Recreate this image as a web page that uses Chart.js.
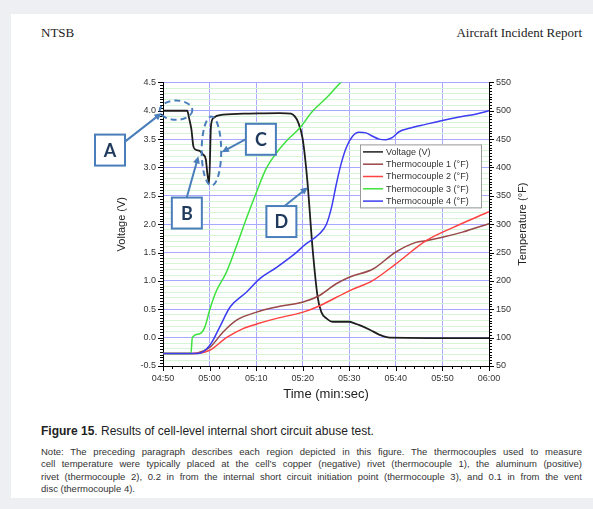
<!DOCTYPE html>
<html>
<head>
<meta charset="utf-8">
<script src="https://cdn.jsdelivr.net/npm/chart.js@4.4.0/dist/chart.umd.min.js"></script>
<style>
  body { margin: 0; width: 593px; height: 509px; background: #edeff2; position: relative; overflow: hidden; font-family: "Liberation Sans", Arial, sans-serif; color: #222; }
  #page { position: absolute; left: 11px; top: 14px; width: 582px; height: 484px; background: #fff; }
  .hdr { position: absolute; top: 25px; font-family: "Liberation Serif", "Times New Roman", serif; font-size: 13px; color: #222; }
  #chartBox { position: absolute; left: 60px; top: 70px; width: 500px; height: 345px; }
  #caption { position: absolute; left: 41px; top: 424px; font-size: 12px; color: #222; white-space: nowrap; }
  #note { position: absolute; left: 41px; top: 446px; width: 541px; font-size: 9.5px; line-height: 12.4px; color: #333; }
  #note div { text-align: justify; text-align-last: justify; white-space: nowrap; }
  #note div.last { text-align-last: left; }
</style>
</head>
<body>
<div id="page"></div>
<div class="hdr" style="left:41px">NTSB</div>
<div class="hdr" style="right:11px">Aircraft Incident Report</div>
<div id="chartBox"><canvas id="cellchart"></canvas></div>
<div id="caption"><b>Figure 15</b>. Results of cell-level internal short circuit abuse test.</div>
<div id="note">
  <div>Note: The preceding paragraph describes each region depicted in this figure. The thermocouples used to measure</div>
  <div>cell temperature were typically placed at the cell’s copper (negative) rivet (thermocouple 1), the aluminum (positive)</div>
  <div>rivet (thermocouple 2), 0.2 in from the internal short circuit initiation point (thermocouple 3), and 0.1 in from the vent</div>
  <div class="last">disc (thermocouple 4).</div>
</div>
<script>
// time is seconds after 04:50
var voltTime = [0, 5.2, 5.6, 6.1, 6.5, 6.9, 7.9, 8.6, 9.2, 9.5, 9.9, 10.3, 10.8, 12.9, 18.6, 25, 27.5, 28.3, 29.0, 30.0, 31.0, 32.1, 33.2, 34.0, 35.1, 36.5, 40.1, 40.8, 42.2, 44.4, 46.5, 48.7, 70];
var voltage = [4.0, 4.0, 3.87, 3.67, 3.38, 3.32, 3.29, 3.23, 3.14, 2.91, 2.72, 3.73, 3.87, 3.93, 3.95, 3.96, 3.95, 3.9, 3.8, 3.5, 2.76, 1.59, 0.72, 0.45, 0.34, 0.28, 0.28, 0.26, 0.22, 0.14, 0.05, 0.0, -0.01];

var tc1Time = [0, 6.5, 8.5, 10.1, 12.9, 15.8, 20.1, 24.4, 30.1, 33.3, 37.2, 40.1, 45.1, 50, 54.3, 56.5, 60, 64.3, 70];
var tc1Temp = [72, 72, 76, 83, 110, 131, 145, 154, 163, 173, 195, 207, 221, 251, 268, 271, 277, 286, 301];

var tc2Time = [0, 7, 10.1, 13.6, 17.2, 20.1, 24.4, 30.1, 33.3, 40.1, 45.1, 50, 56.5, 62.2, 70];
var tc2Temp = [72, 72, 78, 100, 116, 124, 134, 145, 155, 183, 201, 230, 271, 294, 322];

var tc3Time = [0, 6.0, 6.3, 7.9, 9.0, 10.1, 11.5, 13.6, 15.8, 17.9, 20.0, 22.1, 24.3, 26.4, 29.3, 32.1, 35.0, 38.2, 40];
var tc3Temp = [72, 72, 100, 107, 119, 151, 183, 215, 262, 310, 355, 397, 425, 446, 469, 499, 522, 550, 562];

var tc4Time = [0, 7.5, 10.1, 12.2, 14.4, 17.9, 20.8, 24.4, 28.6, 30.5, 33.6, 35.1, 36.2, 37.2, 38.2, 39.3, 40.7, 42.1, 43.6, 45.0, 46.4, 47.9, 49.3, 50.7, 52.9, 56.4, 60, 63.6, 67.1, 70];
var tc4Temp = [72, 72, 87, 119, 154, 180, 204, 224, 250, 264, 283, 300, 330, 370, 405, 434, 455, 462, 461, 455, 450, 449, 453, 463, 469, 476, 483, 489, 494, 500];

var seriesNames = ['Voltage (V)', 'Thermocouple 1 (°F)', 'Thermocouple 2 (°F)', 'Thermocouple 3 (°F)', 'Thermocouple 4 (°F)'];
var seriesColors = ['#1e1e1e', '#9a4848', '#ff4242', '#3ee23e', '#3c3cf2'];

// callouts, placed in data units (seconds, volts)
var ellipses = [
	{t: 2.8, v: 4.01, rt: 3.5, rv: 0.17},
	{t: 10.4, v: 3.29, rt: 2.1, rv: 0.61}
];
var callouts = [
	{label: 'A', t: -14.6, v: 3.58, from: [-8.1, 3.46], to: [-0.3, 3.96]},
	{label: 'B', t: 1.9, v: 2.47, from: [5.1, 2.47], to: [7.6, 3.2]},
	{label: 'C', t: 17.8, v: 3.77, from: [17.8, 3.5], to: [12.6, 3.27]},
	{label: 'D', t: 22.2, v: 2.32, from: [26.1, 2.32], to: [31.1, 2.65]}
];

function pairs(xs, ys) {
	return xs.map(function (x, i) { return {x: x, y: ys[i]}; });
}
function fmtTime(s) {
	var t = 290 + s;
	var m = Math.floor(t / 60), ss = Math.round(t % 60);
	return String(m).padStart(2, '0') + ':' + String(ss).padStart(2, '0');
}
function isMajor(v) {
	return Math.abs(v * 2 - Math.round(v * 2)) < 1e-6;
}

var gridBlue = '#a9a9ff';
var gridGreen = '#d6f4d6';
var annoBlue = '#4a7ebb';

var extras = {
	id: 'extras',
	afterDraw: function (chart) {
		var ctx = chart.ctx, a = chart.chartArea;
		var xs = chart.scales.x, ys = chart.scales.y, y2 = chart.scales.y2;
		ctx.save();
		// tick marks
		ctx.strokeStyle = '#000';
		ctx.lineWidth = 1;
		ctx.beginPath();
		for (var i = 0; i <= 100; i++) {
			var py = Math.round(ys.getPixelForValue(-0.5 + i * 0.05)) + 0.5;
			var len = i % 10 === 0 ? 5 : 3;
			ctx.moveTo(a.left - len, py); ctx.lineTo(a.left, py);
			var py2 = Math.round(y2.getPixelForValue(50 + i * 5)) + 0.5;
			ctx.moveTo(a.right, py2); ctx.lineTo(a.right + len, py2);
		}
		for (var s = 0; s <= 70; s += 2) {
			var px = Math.round(xs.getPixelForValue(s)) + 0.5;
			var l2 = s % 10 === 0 ? 5 : 3;
			ctx.moveTo(px, a.bottom); ctx.lineTo(px, a.bottom + l2);
		}
		ctx.stroke();

		// axis titles
		ctx.fillStyle = '#222';
		ctx.textAlign = 'center';
		ctx.textBaseline = 'middle';
		ctx.font = '11px "Liberation Sans", Arial, sans-serif';
		ctx.save();
		ctx.translate(a.left - 41, (a.top + a.bottom) / 2);
		ctx.rotate(-Math.PI / 2);
		ctx.fillText('Voltage (V)', 0, 0);
		ctx.restore();
		ctx.save();
		ctx.translate(a.right + 34, (a.top + a.bottom) / 2);
		ctx.rotate(-Math.PI / 2);
		ctx.fillText('Temperature (°F)', 0, 0);
		ctx.restore();
		ctx.font = '13px "Liberation Sans", Arial, sans-serif';
		ctx.fillText('Time (min:sec)', (a.left + a.right) / 2, a.bottom + 28);

		// legend
		var lx = a.left + 197, ly = a.top + 62, lw = 121, lh = 63;
		ctx.fillStyle = '#fff';
		ctx.fillRect(lx, ly, lw, lh);
		ctx.strokeStyle = '#9a9a9a';
		ctx.strokeRect(lx + 0.5, ly + 0.5, lw, lh);
		ctx.font = '9px "Liberation Sans", Arial, sans-serif';
		ctx.textAlign = 'left';
		seriesNames.forEach(function (name, k) {
			var ry = ly + 7.5 + k * 12.3;
			ctx.strokeStyle = seriesColors[k];
			ctx.lineWidth = 1.5;
			ctx.beginPath(); ctx.moveTo(lx + 3, ry); ctx.lineTo(lx + 23, ry); ctx.stroke();
			ctx.fillStyle = '#333';
			ctx.fillText(name, lx + 26, ry + 0.5);
		});

		// dashed ellipses
		ctx.strokeStyle = annoBlue;
		ctx.lineWidth = 2;
		ctx.setLineDash([6, 4]);
		ellipses.forEach(function (e) {
			var cx = xs.getPixelForValue(e.t), cy = ys.getPixelForValue(e.v);
			var rx = Math.abs(xs.getPixelForValue(e.t + e.rt) - cx);
			var ry = Math.abs(ys.getPixelForValue(e.v + e.rv) - cy);
			ctx.beginPath(); ctx.ellipse(cx, cy, rx, ry, 0, 0, Math.PI * 2); ctx.stroke();
		});
		ctx.setLineDash([]);

		// boxes and arrows
		callouts.forEach(function (c) {
			var bx = xs.getPixelForValue(c.t), by = ys.getPixelForValue(c.v);
			ctx.fillStyle = '#fff';
			ctx.fillRect(bx, by, 30, 31);
			ctx.strokeStyle = annoBlue;
			ctx.lineWidth = 2;
			ctx.strokeRect(bx, by, 30, 31);
			ctx.fillStyle = '#1f3a5c';
			ctx.font = 'bold 18px Lato, "Open Sans", sans-serif';
			ctx.textAlign = 'center';
			ctx.fillText(c.label, bx + 15, by + 16.5);
			var x0 = xs.getPixelForValue(c.from[0]), y0 = ys.getPixelForValue(c.from[1]);
			var x1 = xs.getPixelForValue(c.to[0]), y1 = ys.getPixelForValue(c.to[1]);
			var ang = Math.atan2(y1 - y0, x1 - x0);
			ctx.beginPath();
			ctx.moveTo(x0, y0);
			ctx.lineTo(x1 - 5 * Math.cos(ang), y1 - 5 * Math.sin(ang));
			ctx.stroke();
			ctx.fillStyle = annoBlue;
			ctx.beginPath();
			ctx.moveTo(x1, y1);
			ctx.lineTo(x1 - 8 * Math.cos(ang - 0.45), y1 - 8 * Math.sin(ang - 0.45));
			ctx.lineTo(x1 - 8 * Math.cos(ang + 0.45), y1 - 8 * Math.sin(ang + 0.45));
			ctx.closePath();
			ctx.fill();
		});
		ctx.restore();
	}
};

function lineSet(k, data, axis) {
	return {
		label: seriesNames[k],
		data: data,
		yAxisID: axis,
		borderColor: seriesColors[k],
		borderWidth: k === 0 ? 1.8 : 1.5,
		pointRadius: 0,
		tension: k === 0 ? 0 : 0.3,
		cubicInterpolationMode: 'monotone',
		fill: false
	};
}

var tickFont = {family: '"Liberation Sans", Arial, sans-serif', size: 9};

var config = {
	type: 'line',
	data: {
		datasets: [
			lineSet(4, pairs(tc4Time, tc4Temp), 'y2'),
			lineSet(3, pairs(tc3Time, tc3Temp), 'y2'),
			lineSet(2, pairs(tc2Time, tc2Temp), 'y2'),
			lineSet(1, pairs(tc1Time, tc1Temp), 'y2'),
			lineSet(0, pairs(voltTime, voltage), 'y')
		]
	},
	options: {
		responsive: true,
		maintainAspectRatio: false,
		animation: false,
		events: [],
		layout: {
			padding: {top: 11, left: 0, right: 0, bottom: 0}
		},
		plugins: {
			legend: {display: false},
			tooltip: {enabled: false}
		},
		scales: {
			x: {
				type: 'linear',
				min: 0,
				max: 70,
				ticks: {stepSize: 10, callback: fmtTime, font: tickFont, color: '#333', padding: 7, maxRotation: 0},
				grid: {color: gridBlue, drawTicks: false},
				border: {color: '#000'},
				afterFit: function (s) { s.height = 49; }
			},
			y: {
				position: 'left',
				min: -0.5,
				max: 4.5,
				ticks: {
					stepSize: 0.1,
					autoSkip: false,
					font: tickFont,
					color: '#333',
					padding: 7,
					callback: function (v) { return isMajor(v) ? v.toFixed(1) : ''; }
				},
				grid: {
					drawTicks: false,
					color: function (c) { return isMajor(c.tick.value) ? gridBlue : gridGreen; }
				},
				border: {color: '#000'},
				afterFit: function (s) { s.width = 103; }
			},
			y2: {
				position: 'right',
				min: 50,
				max: 550,
				ticks: {stepSize: 50, font: tickFont, color: '#333', padding: 7},
				grid: {drawOnChartArea: false, drawTicks: false},
				border: {color: '#000'},
				afterFit: function (s) { s.width = 71; }
			}
		}
	},
	plugins: [extras]
};

var ctx = document.getElementById('cellchart').getContext('2d');
var cellChart = new Chart(ctx, config);
</script>
</body>
</html>
